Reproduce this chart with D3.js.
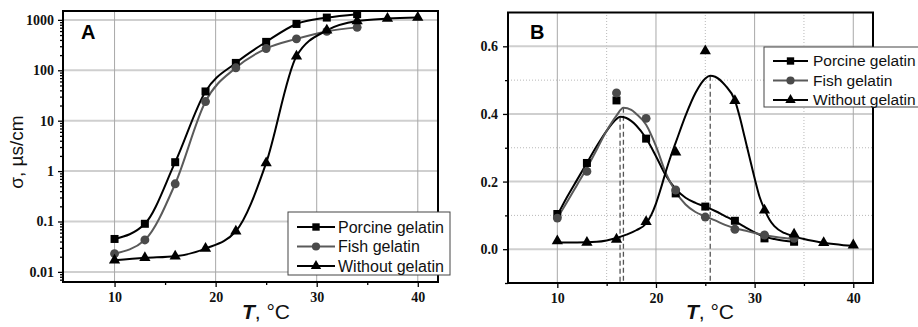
<!DOCTYPE html>
<html><head><meta charset="utf-8">
<script src="https://cdn.jsdelivr.net/npm/d3@7"></script>
<style>body{margin:0;background:#fff}svg{display:block}</style>
</head><body>
<svg id="c" width="918" height="327"></svg>
<script>
// ---------- Data ----------
const seriesNames = ["Porcine gelatin", "Fish gelatin", "Without gelatin"];
// Panel A (log conductivity)
const tempA = [10, 13, 16, 19, 22, 25, 28, 31, 34];
const porcineA = [0.045, 0.09, 1.5, 38, 140, 366, 830, 1110, 1300];
const fishA = [0.023, 0.043, 0.56, 24, 112, 270, 420, 590, 710];
const tempNoA = [10, 13, 16, 19, 22, 25, 28, 31, 34, 37, 40];
const withoutA = [0.017, 0.019, 0.0205, 0.029, 0.064, 1.45, 190, 620, 950, 1060, 1110];
const yTicksA = [0.01, 0.1, 1, 10, 100, 1000];
const yTickLabelsA = ["0.01", "0.1", "1", "10", "100", "1000"];
const xTicks = [10, 20, 30, 40];
// Panel B (derivative)
const tempB = [10, 13, 16, 19, 22, 25, 28, 31, 34];
const porcineB = [0.104, 0.255, 0.44, 0.327, 0.165, 0.126, 0.084, 0.032, 0.022];
const fishB = [0.092, 0.23, 0.462, 0.387, 0.175, 0.095, 0.059, 0.042, 0.032];
const tempNoB = [10, 13, 16, 19, 22, 25, 28, 31, 34, 37, 40];
const withoutB = [0.024, 0.02, 0.029, 0.081, 0.287, 0.586, 0.439, 0.115, 0.044, 0.019, 0.012];
// fitted curves in panel B
const fitTPorcine = [10, 11, 12, 13, 14, 15, 16, 16.36, 17, 18, 19, 20, 21, 22, 23, 24, 25, 26, 27, 28, 29, 30, 31, 32, 33, 34];
const fitPorcine = [0.10, 0.155, 0.205, 0.255, 0.305, 0.35, 0.385, 0.392, 0.388, 0.366, 0.328, 0.275, 0.218, 0.178, 0.152, 0.137, 0.126, 0.113, 0.098, 0.083, 0.066, 0.05, 0.037, 0.03, 0.025, 0.022];
const fitTFish = [10, 11, 12, 13, 14, 15, 16, 16.7, 17.5, 18, 19, 20, 21, 22, 23, 24, 25, 26, 27, 28, 29, 30, 31, 32, 33, 34];
const fitFish = [0.092, 0.14, 0.19, 0.24, 0.295, 0.35, 0.395, 0.418, 0.412, 0.40, 0.368, 0.305, 0.225, 0.17, 0.132, 0.11, 0.097, 0.085, 0.072, 0.062, 0.055, 0.048, 0.042, 0.037, 0.033, 0.03];
const fitTNo = [10, 12, 14, 15, 16, 17, 18, 19, 19.5, 20, 20.5, 21, 21.5, 22, 23, 24, 25, 25.5, 26, 27, 28, 28.5, 29, 29.5, 30, 30.5, 31, 31.5, 32, 33, 34, 35, 36, 37, 38, 39, 40];
const fitNo = [0.02, 0.02, 0.022, 0.026, 0.033, 0.043, 0.056, 0.076, 0.1, 0.135, 0.18, 0.23, 0.275, 0.315, 0.395, 0.462, 0.505, 0.513, 0.51, 0.485, 0.44, 0.39, 0.33, 0.27, 0.21, 0.155, 0.118, 0.088, 0.068, 0.048, 0.038, 0.03, 0.024, 0.019, 0.015, 0.012, 0.01];
const peakT = [16.36, 16.7, 25.5];
const peakV = [0.392, 0.418, 0.513];
const yTicksB = [0, 0.2, 0.4, 0.6];
const yTickLabelsB = ["0.0", "0.2", "0.4", "0.6"];

// ---------- Styles ----------
const colors = ["#000", "#4a4a4a", "#000"];
const lineColors = ["#000", "#5a5a5a", "#000"];
const symbols = [d3.symbolSquare, d3.symbolCircle, d3.symbolTriangle];
const symSizes = [64, 62, 55];
const tickFont = "'Liberation Serif','Times New Roman',serif";
const sansFont = "'Liberation Sans',Arial,sans-serif";

const svg = d3.select("#c");

function drawFrame(g, x0, x1, y0, y1) {
  g.append("rect").attr("x", x0).attr("y", y1).attr("width", x1 - x0).attr("height", y0 - y1)
    .attr("fill", "none").attr("stroke", "#000").attr("stroke-width", 2);
}

// ---------- Panel A ----------
const xA = d3.scaleLinear().domain([4.9, 42]).range([63, 438]);
const yA = d3.scaleLog().domain([0.0063, 1500]).range([282, 11]);
const gA = svg.append("g");

gA.selectAll(".hgA").data(yTicksA).join("line")
  .attr("x1", xA.range()[0]).attr("x2", xA.range()[1])
  .attr("y1", d => yA(d)).attr("y2", d => yA(d))
  .attr("stroke", "#cfcfcf").attr("stroke-width", 2);
gA.selectAll(".vgA").data(xTicks).join("line")
  .attr("x1", d => xA(d)).attr("x2", d => xA(d))
  .attr("y1", yA.range()[0]).attr("y2", yA.range()[1])
  .attr("stroke", "#a8a8a8").attr("stroke-width", 1);

gA.append("g").attr("transform", `translate(${xA.range()[0]},0)`)
  .call(d3.axisLeft(yA).tickValues(yTicksA).tickFormat((d, i) => yTickLabelsA[i]).tickSize(5).tickPadding(4));
const minorA = [];
for (let e = -3; e <= 3; e++) for (let m = 2; m <= 9; m++) { const v = m * Math.pow(10, e); if (v > 0.0063 && v < 1500) minorA.push(v); }
gA.append("g").attr("transform", `translate(${xA.range()[0]},0)`)
  .call(d3.axisLeft(yA).tickValues(minorA).tickFormat("").tickSize(3));
gA.append("g").attr("transform", `translate(0,${yA.range()[0]})`)
  .call(d3.axisBottom(xA).tickValues(xTicks).tickFormat(d3.format("d")).tickSize(5).tickPadding(5));
gA.append("g").attr("transform", `translate(0,${yA.range()[0]})`)
  .call(d3.axisBottom(xA).tickValues([15, 25, 35]).tickFormat("").tickSize(3));
gA.selectAll(".domain").remove();
gA.selectAll(".tick line").attr("stroke", "#000").attr("stroke-width", 1.3);
gA.selectAll(".tick text").attr("font-family", tickFont).attr("font-weight", "bold").attr("font-size", 14).attr("fill", "#111");
drawFrame(gA, 63, 438, 282, 11);

const seriesA = [[tempA, porcineA], [tempA, fishA], [tempNoA, withoutA]];
const lineA = d3.line().x(d => xA(d[0])).y(d => yA(d[1])).curve(d3.curveMonotoneX);
seriesA.forEach((s, i) => {
  const pts = s[0].map((t, k) => [t, s[1][k]]);
  gA.append("path").datum(pts).attr("d", lineA).attr("fill", "none")
    .attr("stroke", lineColors[i]).attr("stroke-width", 2);
});
seriesA.forEach((s, i) => {
  const pts = s[0].map((t, k) => [t, s[1][k]]);
  gA.selectAll(null).data(pts).join("path")
    .attr("transform", d => `translate(${xA(d[0])},${yA(d[1])})`)
    .attr("d", d3.symbol(symbols[i], symSizes[i])).attr("fill", colors[i]);
});

gA.append("text").attr("x", 81).attr("y", 39).text("A")
  .attr("font-family", sansFont).attr("font-weight", "bold").attr("font-size", 20);

function legend(g, x, y, w, h, rows, lx0, lx1, tx, fs) {
  g.append("rect").attr("x", x).attr("y", y).attr("width", w).attr("height", h)
    .attr("fill", "#fff").attr("stroke", "#444").attr("stroke-width", 1);
  rows.forEach((ry, i) => {
    g.append("line").attr("x1", lx0).attr("x2", lx1).attr("y1", ry).attr("y2", ry)
      .attr("stroke", lineColors[i]).attr("stroke-width", 2);
    g.append("path").attr("transform", `translate(${(lx0 + lx1) / 2},${ry})`)
      .attr("d", d3.symbol(symbols[i], symSizes[i] * 0.85)).attr("fill", colors[i]);
    g.append("text").attr("x", tx).attr("y", ry).attr("dy", "0.35em").text(seriesNames[i])
      .attr("font-family", sansFont).attr("font-size", fs).attr("fill", "#111");
  });
}
legend(gA, 288, 212, 162, 63, [227, 246.5, 266], 297, 335, 338, 16);

gA.append("text").attr("transform", "translate(23,152) rotate(-90)").attr("text-anchor", "middle")
  .attr("font-family", sansFont).attr("font-size", 19).attr("fill", "#111").text("σ, µs/cm");
const tA = gA.append("text").attr("x", 266).attr("y", 319).attr("text-anchor", "middle")
  .attr("font-family", sansFont).attr("font-size", 21).attr("fill", "#111");
tA.append("tspan").attr("font-weight", "bold").attr("font-style", "italic").text("T");
tA.append("tspan").text(", °C");

// ---------- Panel B ----------
const xB = d3.scaleLinear().domain([5, 42]).range([508, 873]);
const yB = d3.scaleLinear().domain([-0.1, 0.7]).range([283, 12.5]);
const gB = svg.append("g");

gB.selectAll(".mg").data([15, 25, 35]).join("line")
  .attr("x1", d => xB(d)).attr("x2", d => xB(d)).attr("y1", yB.range()[0]).attr("y2", yB.range()[1])
  .attr("stroke", "#b8b8b8").attr("stroke-width", 1).attr("stroke-dasharray", "1,2");
gB.selectAll(".mgh").data([0.1, 0.3, 0.5]).join("line")
  .attr("x1", xB.range()[0]).attr("x2", xB.range()[1]).attr("y1", d => yB(d)).attr("y2", d => yB(d))
  .attr("stroke", "#b8b8b8").attr("stroke-width", 1).attr("stroke-dasharray", "1,2");
gB.selectAll(".hgB").data(yTicksB).join("line")
  .attr("x1", xB.range()[0]).attr("x2", xB.range()[1]).attr("y1", d => yB(d)).attr("y2", d => yB(d))
  .attr("stroke", "#cfcfcf").attr("stroke-width", 2);
gB.selectAll(".vgB").data(xTicks).join("line")
  .attr("x1", d => xB(d)).attr("x2", d => xB(d)).attr("y1", yB.range()[0]).attr("y2", yB.range()[1])
  .attr("stroke", "#a8a8a8").attr("stroke-width", 1);

gB.append("g").attr("transform", `translate(${xB.range()[0]},0)`)
  .call(d3.axisLeft(yB).tickValues(yTicksB).tickFormat((d, i) => yTickLabelsB[i]).tickSize(5).tickPadding(5));
gB.append("g").attr("transform", `translate(${xB.range()[0]},0)`)
  .call(d3.axisLeft(yB).tickValues([-0.1, 0.1, 0.3, 0.5]).tickFormat("").tickSize(3));
gB.append("g").attr("transform", `translate(0,${yB.range()[0]})`)
  .call(d3.axisBottom(xB).tickValues(xTicks).tickFormat(d3.format("d")).tickSize(5).tickPadding(5));
gB.append("g").attr("transform", `translate(0,${yB.range()[0]})`)
  .call(d3.axisBottom(xB).tickValues([15, 25, 35]).tickFormat("").tickSize(3));
gB.selectAll(".domain").remove();
gB.selectAll(".tick line").attr("stroke", "#000").attr("stroke-width", 1.3);
gB.selectAll(".tick text").attr("font-family", tickFont).attr("font-weight", "bold").attr("font-size", 14).attr("fill", "#111");

gB.selectAll(".pk").data(peakT).join("line")
  .attr("x1", d => xB(d)).attr("x2", d => xB(d))
  .attr("y1", (d, i) => yB(peakV[i])).attr("y2", yB.range()[0])
  .attr("stroke", "#555").attr("stroke-width", 1.3).attr("stroke-dasharray", "5,3");

drawFrame(gB, 508, 873, 283, 12.5);

const lineB = d3.line().x(d => xB(d[0])).y(d => yB(d[1])).curve(d3.curveMonotoneX);
const fits = [[fitTPorcine, fitPorcine], [fitTFish, fitFish], [fitTNo, fitNo]];
fits.forEach((s, i) => {
  const pts = s[0].map((t, k) => [t, s[1][k]]);
  gB.append("path").datum(pts).attr("d", lineB).attr("fill", "none")
    .attr("stroke", lineColors[i]).attr("stroke-width", 2);
});
const seriesB = [[tempB, porcineB], [tempB, fishB], [tempNoB, withoutB]];
seriesB.forEach((s, i) => {
  const pts = s[0].map((t, k) => [t, s[1][k]]);
  gB.selectAll(null).data(pts).join("path")
    .attr("transform", d => `translate(${xB(d[0])},${yB(d[1])})`)
    .attr("d", d3.symbol(symbols[i], symSizes[i])).attr("fill", colors[i]);
});

gB.append("text").attr("x", 530).attr("y", 39).text("B")
  .attr("font-family", sansFont).attr("font-weight", "bold").attr("font-size", 20);

legend(gB, 764, 47, 160, 60, [61, 80.5, 100], 773, 808, 813, 15.5);

const tB = gB.append("text").attr("x", 710).attr("y", 319).attr("text-anchor", "middle")
  .attr("font-family", sansFont).attr("font-size", 21).attr("fill", "#111");
tB.append("tspan").attr("font-weight", "bold").attr("font-style", "italic").text("T");
tB.append("tspan").text(", °C");
</script>
</body></html>
